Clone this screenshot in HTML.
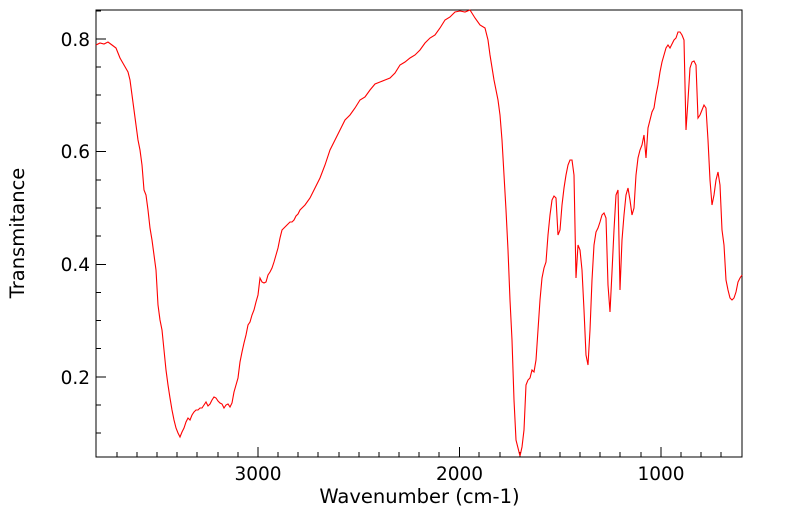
<!DOCTYPE html>
<html><head><meta charset="utf-8"><style>
html,body{margin:0;padding:0;background:#fff;}
svg{display:block;font-family:"DejaVu Sans","Liberation Sans",sans-serif;}
</style></head><body>
<svg width="799" height="516" viewBox="0 0 799 516" xmlns="http://www.w3.org/2000/svg">
<rect x="96" y="10" width="646" height="447" fill="none" stroke="#000" stroke-width="1"/>
<g stroke="#000" stroke-width="1">
<path d="M96 377h10M96 264.5h10M96 151.5h10M96 39h10"/>
<path d="M96 433h5M96 405h5M96 348.5h5M96 320.5h5M96 292.5h5M96 236h5M96 208h5M96 180h5M96 123h5M96 95h5M96 67h5M96 11h5"/>
<path d="M258 457v-10M459.5 457v-10M661 457v-10"/>
<path d="M117 457v-5M137 457v-5M157 457v-5M177 457v-5M197 457v-5M218 457v-5M238 457v-5M278 457v-5M298 457v-5M318 457v-5M339 457v-5M359 457v-5M379 457v-5M399 457v-5M419 457v-5M439 457v-5M479 457v-5M500 457v-5M520 457v-5M540 457v-5M560 457v-5M580 457v-5M600 457v-5M620 457v-5M641 457v-5M681 457v-5M701 457v-5M721 457v-5"/>
</g>
<g font-size="18.5" fill="#000">
<text x="90" y="384" text-anchor="end">0.2</text>
<text x="90" y="271" text-anchor="end">0.4</text>
<text x="90" y="158" text-anchor="end">0.6</text>
<text x="90" y="46" text-anchor="end">0.8</text>
<text x="258" y="480" text-anchor="middle">3000</text>
<text x="459.5" y="480" text-anchor="middle">2000</text>
<text x="661" y="480" text-anchor="middle">1000</text>
<text x="419.5" y="503" text-anchor="middle" font-size="19.5">Wavenumber (cm-1)</text>
<text transform="translate(24,233) rotate(-90)" text-anchor="middle" font-size="19.5">Transmitance</text>
</g>
<polyline fill="none" stroke="#ff0000" stroke-width="1.1" points="96,45 100,43 104,44 108,42 112,45 116,48 120,58 124,65 128,72 130,80 132,95 134,110 136,125 138,140 140,150 142,165 144,190 146,195 148,210 150,228 152,240 154,255 156,270 158,305 160,320 162,330 164,350 166,370 168,385 170,398 172,410 174,420 176,428 178,433 180,437 182,432 184,428 186,422 188,418 190,420 192,415 194,412 196,410 198,410 200,408 202,408 204,405 206,402 208,406 210,404 212,400 214,397 216,398 218,401 220,403 222,404 224,408 226,405 228,404 230,407 232,403 234,392 236,385 238,378 240,362 242,352 244,343 246,335 248,325 250,322 252,315 254,310 256,302 258,295 260,278 262,282 264,283 266,282 268,275 270,272 272,268 274,262 276,255 278,248 280,238 282,230 284,228 286,226 288,224 290,222 292,222 294,220 296,216 298,214 300,210 305,205 310,198 315,188 320,178 325,165 330,150 335,140 340,130 345,120 350,115 355,108 360,100 365,97 370,90 375,84 380,82 385,80 390,78 395,73 400,65 405,62 410,58 415,55 420,50 425,43 430,38 435,35 440,28 445,20 450,17 455,12 460,11 465,12 470,10 475,18 480,25 485,28 488,40 490,55 494,80 496,90 498,100 500,115 502,140 504,175 506,210 508,250 510,300 512,340 514,400 516,440 518,448 520,456 522,447 524,430 526,385 528,380 530,378 532,370 534,372 536,360 538,330 540,300 542,278 544,268 546,262 548,235 550,215 552,200 554,196 556,198 558,235 560,230 562,205 564,188 566,175 568,165 570,160 572,160 574,175 576,278 578,245 580,250 582,270 584,310 586,355 588,365 590,330 592,280 594,245 596,232 598,228 600,222 602,215 604,213 606,218 608,285 610,312 612,272 614,230 616,195 618,190 620,290 622,240 624,215 626,195 628,188 630,200 632,215 634,208 636,175 638,158 640,150 642,145 644,135 646,158 648,128 650,120 652,112 654,108 656,95 658,85 660,72 662,62 664,55 666,48 668,45 670,48 672,44 674,40 676,38 678,32 680,32 682,35 684,40 686,130 688,100 690,68 692,62 694,61 696,65 698,118 700,115 702,110 704,105 706,108 708,140 710,180 712,205 714,195 716,180 718,172 720,185 722,230 724,245 726,280 728,290 730,298 732,300 734,298 736,292 738,282 740,278 742,275"/>
</svg>
</body></html>
